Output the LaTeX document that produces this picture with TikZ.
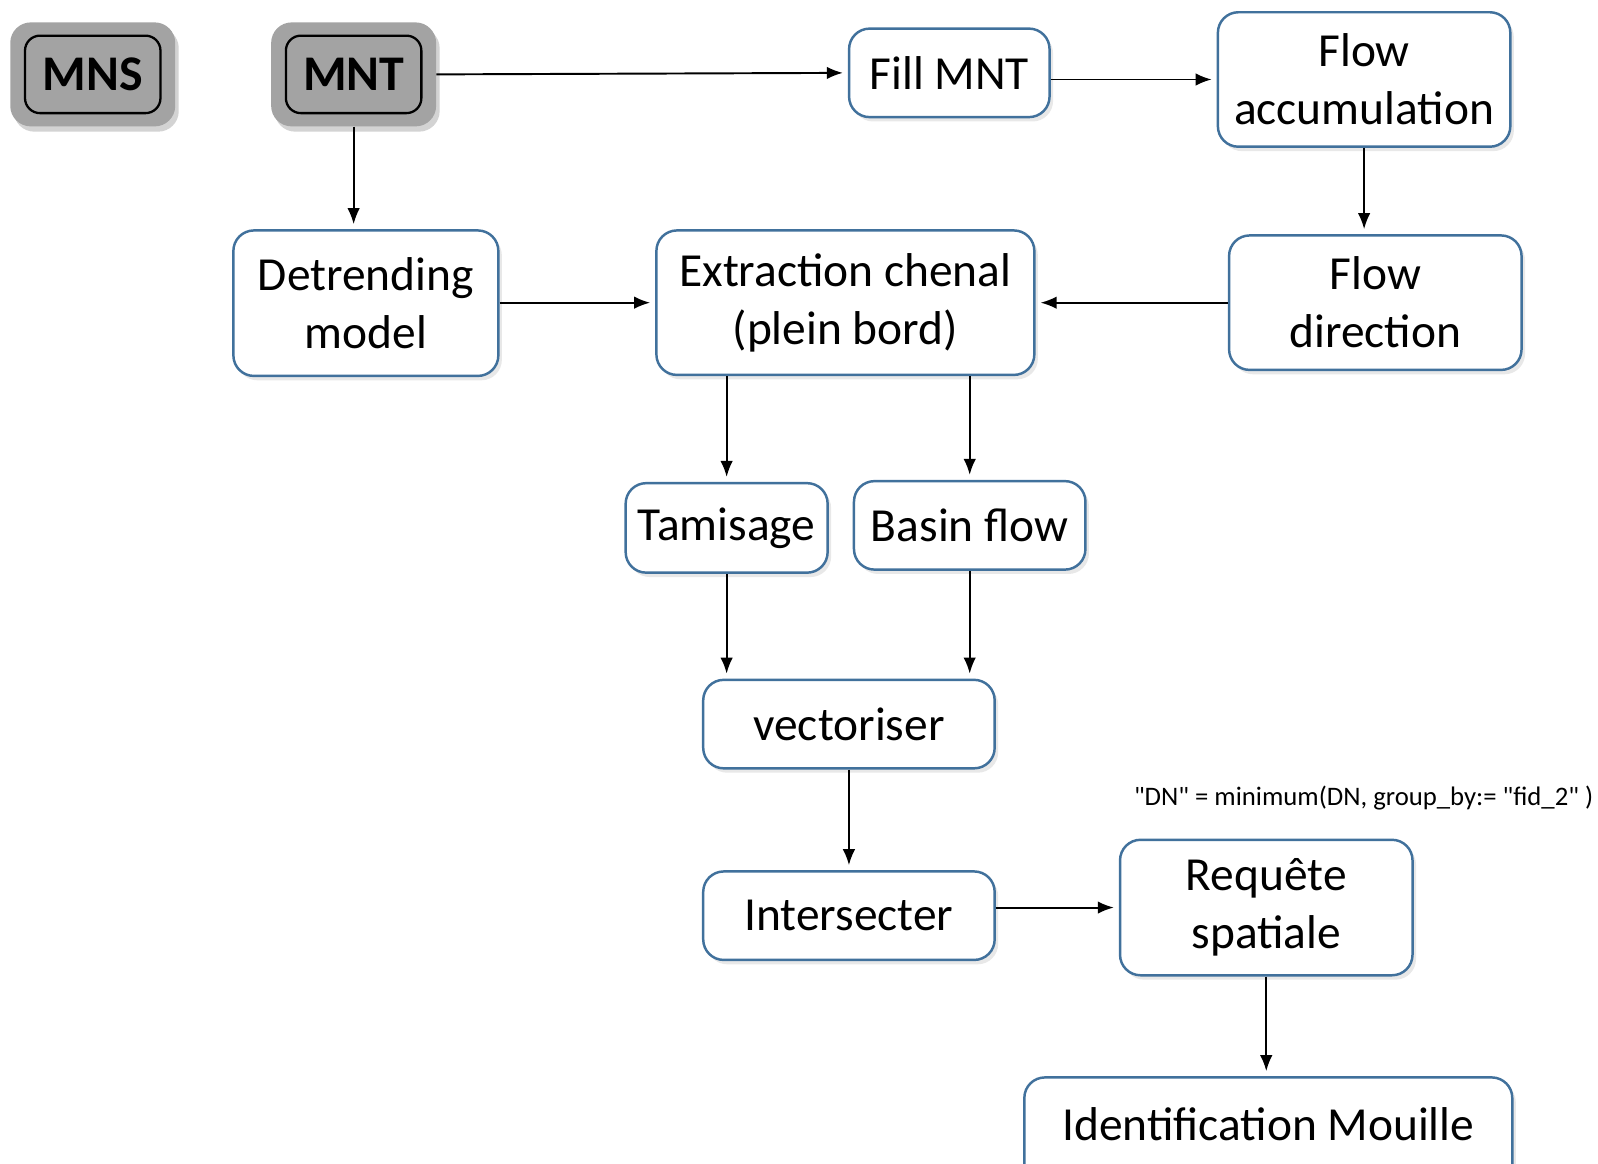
\documentclass[tikz,border=0pt]{standalone}
\usepackage{fontspec}
\setmainfont{Carlito}
\newfontfamily\notefont{Carlito}
\usetikzlibrary{positioning,shadows,arrows.meta}

\definecolor{boxblue}{RGB}{65,113,156}
\definecolor{demgray}{RGB}{163,163,163}

\begin{document}
\begin{tikzpicture}[x=0.02038cm,y=-0.02038cm,
    box/.style={draw=boxblue,line width=1.4pt,rounded corners=0.41cm,fill=white,align=center,
        inner sep=0pt,font=\fontsize{27}{33}\selectfont,
        drop shadow={shadow xshift=2pt,shadow yshift=-2.5pt,opacity=0.18}},
    demfrm/.style={fill=demgray,rounded corners=0.41cm,minimum width=3.3cm,minimum height=2.08cm,
        drop shadow={shadow xshift=2pt,shadow yshift=-3pt,opacity=0.35}},
    dem/.style={draw=black,line width=1.3pt,rounded corners=0.3cm,minimum width=2.71cm,
        minimum height=1.55cm,font=\fontsize{28.4}{33}\selectfont\bfseries},
    arr/.style={-{Latex[length=0.32cm,width=0.25cm]},line width=1.1pt,shorten >=0.1cm}]

    % input rasters
    \node[demfrm] (mnsfrm) at (91,73) {};
    \node[dem] (mns) at (mnsfrm) {MNS};
    \node[demfrm] (mntfrm) at (347,73) {};
    \node[dem] (mnt) at (mntfrm) {MNT};

    % processing steps
    \node[box,minimum width=4.01cm,minimum height=1.77cm] (fill) at (931.5,71.5) {Fill MNT};
    \node[box,minimum width=5.85cm,minimum height=2.69cm] (flowacc) at (1338.5,78) {Flow\\accumulation};
    \node[box,minimum width=5.85cm,minimum height=2.69cm] (flowdir) at (1349.5,297) {Flow\\direction};
    \node[box,minimum width=5.3cm,minimum height=2.91cm] (detrend) at (359,297.5) {Detrending\\model};
    \node[box,minimum width=7.56cm,minimum height=2.89cm] (extract) at (829.5,297) {Extraction chenal\\(plein bord)};
    \node[box,minimum width=4.04cm,minimum height=1.79cm] (tamis) at (713,518) {Tamisage};
    \node[box,minimum width=4.63cm,minimum height=1.77cm] (basin) at (951.5,515.5) {Basin flow};
    \node[box,minimum width=5.83cm,minimum height=1.77cm] (vector) at (833,710.5) {vectoriser};
    \node[box,minimum width=5.83cm,minimum height=1.77cm] (inter) at (833,898.5) {Intersecter};
    \node[box,minimum width=5.85cm,minimum height=2.71cm] (requete) at (1242.5,890.5) {Requête\\spatiale};
    \node[box,anchor=north,minimum width=9.76cm,text height=1.26cm,text depth=1.33cm] (ident) at (1244.5,1056) {Identification Mouille};
    \node[font=\notefont\fontsize{15.2}{18}\selectfont] (dnnote) at (1338,783) {"DN" = minimum(DN, group\_by:= "fid\_2" )};

    \draw[arr] (mntfrm.east) -- (fill.west);
    \draw[arr] (fill.east |- flowacc.west) -- (flowacc.west);
    \draw[arr] (flowacc.south) -- (flowacc.south |- flowdir.north);
    \draw[arr] (mntfrm.south) -- (mntfrm.south |- detrend.north);
    \draw[arr] (detrend.east |- extract.west) -- (extract.west);
    \draw[arr] (flowdir.west) -- (extract.east);
    \draw[arr] (tamis.north |- extract.south) -- (tamis.north);
    \draw[arr] (basin.north |- extract.south) -- (basin.north);
    \draw[arr] (tamis.south) -- (tamis.south |- vector.north);
    \draw[arr] (basin.south) -- (basin.south |- vector.north);
    \draw[arr] (vector.south) -- (inter.north);
    \draw[arr] (requete.west -| inter.east) -- (requete.west);
    \draw[arr] (requete.south) -- (requete.south |- ident.north);

    \pgfresetboundingbox
    \useasboundingbox (0,0) rectangle (1568,1142);
\end{tikzpicture}
\end{document}
